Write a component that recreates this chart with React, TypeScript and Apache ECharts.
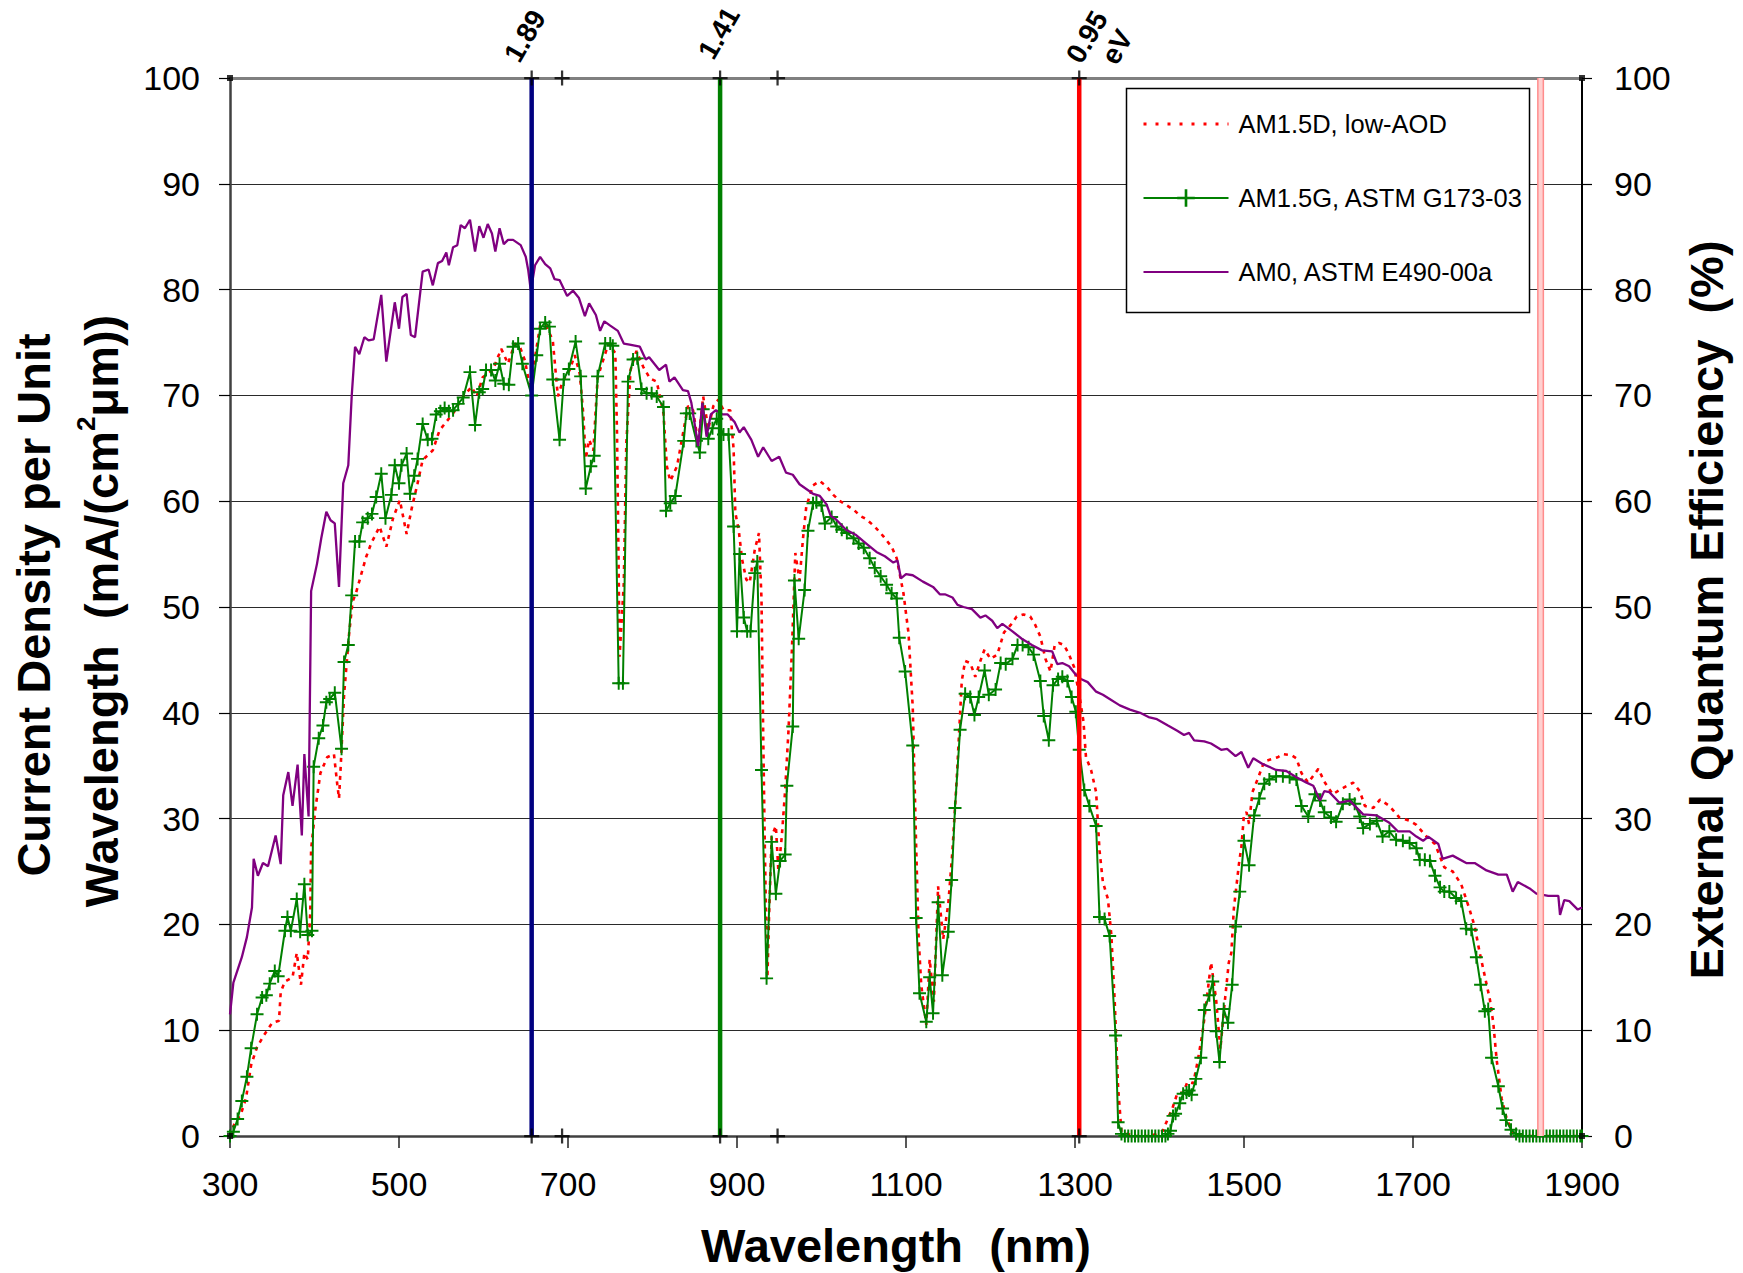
import React, { useEffect, useRef } from "react";
import * as echarts from "echarts";

// ---------- data (wavelength nm, current density mA/(cm^2 um)) ----------
const am0: number[][] = [
  [300,11.5],[304,14.5],[314,16.9],[320,18.8],[326,21.6],[328,26.2],[333,24.6],[339,25.8],[345,25.5],[354,28.4],
  [360,25.7],[363,32.2],[369,34.4],[374,31.2],[380,35.1],[385,28.4],[388,36.1],[393,30.2],[396,51.5],[403,54.1],
  [408,56.5],[414,59.0],[419,58.2],[424,57.9],[429,51.9],[434,61.7],[440,63.4],[444,69.9],[448,74.6],[453,73.9],
  [459,75.5],[464,75.2],[470,75.3],[479,79.5],[485,73.2],[495,78.8],[500,76.3],[504,79.3],[509,79.6],[514,75.7],
  [519,75.5],[528,81.7],[535,81.9],[540,80.4],[546,82.5],[551,82.7],[556,83.5],[559,82.3],[564,84.0],[569,84.2],
  [573,86.1],[578,85.8],[584,86.6],[590,83.6],[595,86.0],[600,84.9],[605,86.2],[610,85.3],[614,83.6],[619,85.8],
  [624,84.3],[629,84.7],[635,84.7],[644,84.2],[650,83.1],[653,81.8],[656,79.9],[661,82.3],[667,83.1],[673,82.4],
  [679,82.0],[684,81.0],[690,80.9],[699,79.4],[706,79.9],[713,79.2],[720,77.5],[725,78.7],[733,77.6],[738,76.1],
  [743,77.0],[750,76.6],[759,76.1],[766,74.9],[773,74.8],[785,74.6],[792,73.4],[796,73.6],[808,72.4],[816,72.9],
  [820,71.3],[826,71.7],[836,70.5],[842,70.4],[846,69.3],[854,65.2],[859,69.3],[864,66.1],[869,68.2],[875,68.6],
  [883,68.2],[889,68.2],[897,67.5],[903,66.5],[908,67.0],[917,65.8],[925,64.2],[931,65.1],[941,63.8],[950,64.2],
  [958,62.7],[966,62.5],[974,61.6],[990,60.7],[998,60.5],[1006,59.7],[1011,58.6],[1017,58.3],[1029,57.3],[1041,56.8],
  [1053,56.0],[1065,55.2],[1075,54.8],[1085,54.2],[1090,54.4],[1094,52.7],[1100,53.1],[1108,53.0],[1120,52.4],[1132,51.9],
  [1140,51.2],[1146,51.2],[1155,50.9],[1161,50.2],[1168,50.0],[1178,49.8],[1188,49.0],[1194,49.2],[1202,48.7],[1208,48.0],
  [1214,48.4],[1226,47.7],[1237,47.0],[1249,46.4],[1261,45.9],[1273,45.8],[1279,44.6],[1285,44.7],[1293,44.4],[1301,43.6],
  [1307,43.2],[1315,42.9],[1325,42.0],[1333,41.7],[1341,41.3],[1353,40.7],[1365,40.3],[1377,40.0],[1387,39.6],[1397,39.4],
  [1410,38.8],[1421,38.3],[1429,37.9],[1435,38.1],[1441,37.4],[1453,37.3],[1461,37.1],[1473,36.5],[1480,36.6],[1490,35.9],
  [1497,36.3],[1505,34.8],[1511,35.7],[1521,35.2],[1538,34.6],[1550,34.5],[1562,33.9],[1574,33.4],[1582,33.1],[1590,31.7],
  [1595,32.6],[1601,32.5],[1613,31.5],[1625,31.7],[1641,30.4],[1657,30.3],[1672,29.6],[1682,28.8],[1696,28.8],[1704,28.3],
  [1712,27.9],[1718,28.3],[1730,27.6],[1735,26.2],[1747,26.5],[1763,25.8],[1773,25.8],[1787,25.1],[1801,24.7],[1811,24.7],
  [1818,23.1],[1824,24.0],[1838,23.4],[1846,22.9],[1860,22.7],[1872,22.7],[1874,20.9],[1879,22.3],[1885,22.2],[1895,21.4],
  [1900,21.6]
];

const am15g: number[][] = [
  [300,0],[304,0.4],[309,1.6],[314,3.3],[320,5.6],[325,8.3],[332,11.5],[338,13.1],[343,13.3],[347,14.4],
  [353,15.6],[357,15.1],[365,19.4],[368,20.7],[372,19.4],[379,22.4],[383,19.3],[388,23.8],[392,19.0],[397,19.4],
  [399,34.9],[405,37.6],[410,38.8],[414,41.0],[418,41.3],[424,41.9],[432,36.6],[435,44.8],[440,46.4],[444,51.1],
  [448,56.2],[453,56.2],[457,58.0],[463,58.4],[468,58.8],[473,60.4],[479,62.6],[484,58.4],[491,60.6],[495,63.4],
  [500,61.7],[503,63.4],[509,64.5],[513,60.7],[518,62.4],[522,64.0],[528,67.3],[534,65.8],[539,65.9],[544,68.2],
  [549,68.5],[554,68.8],[559,68.5],[564,68.6],[570,69.2],[576,69.8],[584,72.2],[590,67.2],[595,70.3],[599,70.6],
  [603,72.4],[609,72.4],[614,71.4],[619,73.0],[624,71.1],[630,71.0],[635,74.6],[641,74.9],[646,73.0],[657,70.0],
  [663,73.8],[667,76.3],[673,76.9],[678,76.5],[682,71.5],[690,65.8],[695,71.5],[701,72.5],[709,75.1],[715,71.8],
  [721,61.2],[727,63.3],[731,64.3],[735,71.8],[744,74.9],[750,74.9],[753,74.7],[760,42.8],[765,42.8],[771,71.3],
  [777,73.4],[782,73.5],[787,70.6],[793,70.2],[799,70.2],[805,69.9],[813,68.9],[816,59.1],[821,59.8],[827,60.5],
  [837,65.7],[840,68.3],[844,68.3],[852,65.7],[856,64.6],[860,68.7],[866,65.9],[871,66.9],[876,67.8],[884,66.3],
  [890,66.3],[896,57.6],[900,47.7],[903,55.0],[908,49.0],[912,47.7],[916,47.7],[921,53.2],[924,54.3],[929,34.6],
  [935,14.9],[941,27.8],[946,22.9],[951,26.0],[957,26.6],[959,33.1],[966,38.7],[968,52.5],[973,47.0],[980,51.6],
  [984,57.2],[990,59.8],[994,59.9],[1000,59.6],[1004,57.9],[1012,58.5],[1018,57.6],[1024,57.3],[1030,57.0],[1038,56.5],
  [1044,56.0],[1050,55.6],[1057,54.6],[1063,53.7],[1070,52.9],[1077,52.1],[1083,51.3],[1089,50.8],[1092,47.1],[1099,43.9],
  [1108,36.9],[1112,20.6],[1116,13.5],[1124,10.8],[1128,15.0],[1132,11.6],[1138,22.1],[1143,15.2],[1150,19.3],[1154,24.2],
  [1158,31.0],[1164,38.4],[1170,41.8],[1176,41.5],[1181,39.8],[1186,41.5],[1193,44.0],[1198,41.7],[1206,42.2],[1212,44.7],
  [1218,44.6],[1226,45.1],[1232,46.4],[1238,46.4],[1245,46.2],[1251,45.5],[1259,43.0],[1263,39.7],[1269,37.4],[1274,42.6],
  [1280,43.2],[1285,43.4],[1291,43.0],[1296,41.5],[1301,40.1],[1305,36.5],[1311,32.7],[1317,31.2],[1325,29.3],[1329,20.7],
  [1335,20.5],[1341,18.9],[1348,9.5],[1351,1.3],[1355,0.2],[1359,0],[1363,0],[1367,0],[1371,0],[1375,0],
  [1379,0],[1383,0],[1387,0],[1391,0],[1395,0],[1399,0],[1403,0],[1407,0],[1410,0.2],[1413,0.5],
  [1416,1.9],[1419,2.1],[1424,3.1],[1428,4.0],[1432,4.1],[1435,4.3],[1438,3.9],[1443,5.4],[1449,7.4],[1453,11.9],
  [1459,13.3],[1463,14.6],[1467,9.9],[1471,7.0],[1476,12.0],[1481,10.7],[1486,14.3],[1490,19.8],[1495,23.1],[1500,27.9],
  [1506,25.6],[1512,30.3],[1518,31.9],[1524,33.3],[1530,33.7],[1538,34.0],[1546,34.0],[1554,33.9],[1562,33.7],[1568,31.2],
  [1576,30.2],[1584,32.3],[1590,31.7],[1595,30.6],[1603,30.1],[1609,29.7],[1617,31.4],[1625,31.8],[1631,31.4],[1637,30.2],
  [1641,29.1],[1649,29.5],[1657,29.8],[1664,28.3],[1672,28.8],[1680,28.0],[1688,27.9],[1696,27.7],[1704,27.2],[1708,26.1],
  [1714,26.1],[1720,26.0],[1726,24.6],[1732,23.5],[1737,23.1],[1743,23.1],[1751,22.5],[1757,22.2],[1763,19.6],[1769,19.5],
  [1775,16.9],[1780,14.3],[1785,11.8],[1789,12.0],[1793,7.4],[1801,4.7],[1806,2.6],[1810,1.5],[1816,0.6],[1822,0.2],
  [1826,0],[1830,0],[1834,0],[1838,0],[1842,0],[1846,0],[1850,0],[1854,0],[1858,0],[1862,0],
  [1866,0],[1870,0],[1874,0],[1878,0],[1882,0],[1886,0],[1890,0],[1894,0],[1898,0],[1900,0]
];

const am15d: number[][] = [
  [300,0],[305,1.1],[313,2.1],[319,3.6],[325,6.7],[332,8.4],[340,9.5],[350,10.7],[358,10.9],[360,13.6],
  [365,14.6],[374,15.0],[379,17.3],[384,14.3],[388,17.3],[392,16.7],[395,21.1],[396,27.1],[401,30.9],[407,34.3],
  [415,35.8],[423,36.1],[427,33.2],[429,31.9],[431,34.9],[435,41.7],[441,47.5],[445,50.5],[449,51.3],[455,53.0],
  [461,54.7],[467,56.0],[477,57.6],[485,55.7],[493,58.4],[501,60.1],[509,56.9],[515,59.3],[522,61.7],[528,63.9],
  [540,64.8],[548,66.7],[564,68.3],[576,69.9],[586,70.8],[592,69.9],[599,71.7],[611,72.4],[621,74.4],[629,73.0],
  [637,74.9],[643,74.6],[649,73.3],[655,70.8],[661,73.6],[667,76.6],[674,76.6],[682,75.2],[688,69.9],[694,71.4],
  [702,72.4],[708,73.8],[714,72.0],[718,68.3],[721,64.0],[725,65.8],[730,64.8],[735,71.6],[739,72.7],[748,74.9],
  [756,74.0],[758,66.4],[760,53.2],[761,45.3],[766,52.2],[769,65.5],[774,72.4],[781,74.2],[789,72.7],[797,71.6],
  [805,71.3],[813,68.3],[817,63.3],[821,61.9],[829,63.3],[837,66.8],[842,69.0],[848,68.6],[854,65.5],[860,69.9],
  [866,66.8],[872,69.0],[878,69.6],[884,68.6],[892,68.6],[896,64.9],[898,58.9],[902,57.3],[906,54.5],[911,52.6],
  [915,52.3],[921,55.4],[926,57.0],[929,50.7],[931,38.0],[933,27.0],[935,18.0],[936,15.0],[938,21.0],[941,28.3],
  [946,29.3],[949,25.0],[953,28.3],[957,32.7],[961,38.4],[965,46.0],[969,55.1],[974,52.5],[978,56.4],[982,59.5],
  [990,61.5],[998,61.9],[1006,61.4],[1014,60.6],[1022,60.0],[1030,59.6],[1038,59.2],[1046,58.6],[1053,58.3],[1063,57.6],
  [1073,56.7],[1083,55.7],[1089,54.6],[1097,51.3],[1103,47.5],[1108,40.5],[1112,27.4],[1115,18.6],[1118,14.3],[1124,10.5],
  [1128,16.7],[1133,12.7],[1138,23.6],[1144,18.6],[1150,21.9],[1155,27.0],[1160,33.7],[1166,43.0],[1170,44.9],[1176,44.7],
  [1182,43.4],[1188,44.9],[1193,46.0],[1200,45.1],[1208,45.5],[1216,47.6],[1224,48.3],[1231,49.1],[1239,49.3],[1247,49.1],
  [1253,48.3],[1259,47.2],[1265,45.1],[1271,43.9],[1276,46.4],[1281,46.6],[1287,46.4],[1293,45.5],[1299,44.3],[1305,41.7],
  [1310,39.2],[1313,35.8],[1319,34.6],[1325,32.5],[1329,27.0],[1333,24.0],[1339,22.4],[1343,19.0],[1347,12.7],[1351,4.6],
  [1355,0.4],[1370,0],[1390,0],[1404,0.5],[1416,2.8],[1421,4.0],[1428,4.1],[1433,5.1],[1440,5.0],[1445,7.0],
  [1451,9.8],[1456,13.0],[1461,16.4],[1467,12.9],[1472,8.2],[1477,12.5],[1482,16.4],[1485,17.3],[1488,21.5],[1491,23.6],
  [1494,25.7],[1497,27.4],[1500,30.4],[1503,30.6],[1506,29.5],[1510,32.5],[1516,33.7],[1524,35.4],[1532,35.6],[1540,35.8],
  [1546,36.1],[1556,36.0],[1562,35.7],[1568,34.3],[1576,33.4],[1588,34.7],[1595,33.5],[1605,32.3],[1615,32.8],[1629,33.4],
  [1637,32.6],[1643,31.2],[1653,31.0],[1661,31.8],[1672,31.2],[1684,30.1],[1696,29.8],[1704,29.4],[1716,28.3],[1726,27.6],
  [1737,25.4],[1747,25.0],[1757,23.8],[1767,21.4],[1773,19.8],[1779,17.3],[1785,15.1],[1791,12.9],[1795,10.7],[1799,7.2],
  [1805,3.5],[1811,1.6],[1818,0.3],[1830,0],[1860,0],[1900,0]
];

// band-gap wavelength markers (nm) and their top labels (eV)
const gapLines = [657, 880, 1305];
const gapLabels = ["1.89", "1.41", "0.95"];
const pinkLine = 1851;
const extraTicks = [693, 948];

const xTicks = { min: 300, max: 1900, step: 200 };
const yTicks = { min: 0, max: 100, step: 10 };

const seriesNames = ["AM1.5D, low-AOD", "AM1.5G, ASTM G173-03", "AM0, ASTM E490-00a"];

const FONT = "'Liberation Sans', Arial, Helvetica, sans-serif";
const PLUS = "path://M8.5,0H11.5V8.5H20V11.5H11.5V20H8.5V11.5H0V8.5H8.5Z";

function vline(x: number, color: string, width: number, z: number) {
  return {
    type: "line",
    data: [[x, yTicks.min], [x, yTicks.max]],
    symbol: "none",
    silent: true,
    lineStyle: { color, width },
    z,
    clip: false,
  };
}

export default function App() {
  const ref = useRef<HTMLDivElement>(null);
  useEffect(() => {
    if (!ref.current) return;
    const chart = echarts.init(ref.current, null, { renderer: "svg" });
    const gapColors = ["#000080", "#008000", "#ff0000"];
    const plusPts: number[][] = [];
    [...gapLines, ...extraTicks].forEach((x) => {
      plusPts.push([x, 0]);
      plusPts.push([x, 100]);
    });
    const option: any = {
      animation: false,
      backgroundColor: "#ffffff",
      textStyle: { fontFamily: FONT },
      grid: { left: 230, top: 78, width: 1352, height: 1058, containLabel: false },
      legend: {
        data: [
          { name: seriesNames[0], itemStyle: { opacity: 0 }, lineStyle: { type: [3, 9], width: 3 } },
          { name: seriesNames[1] },
          { name: seriesNames[2], itemStyle: { opacity: 0 } },
        ],
        orient: "vertical",
        left: 1137,
        top: 104,
        itemWidth: 85,
        itemHeight: 22,
        itemGap: 44,
        z: 20,
        selectedMode: false,
        textStyle: { fontSize: 25.5, color: "#000", fontFamily: FONT, lineHeight: 30, padding: [0, 0, 0, 5] },
      },
      xAxis: [
        {
          type: "value",
          min: xTicks.min,
          max: xTicks.max,
          interval: xTicks.step,
          position: "bottom",
          axisLine: { show: true, onZero: false, lineStyle: { color: "#404040", width: 2.5 } },
          axisTick: { show: true, length: 12, lineStyle: { color: "#202020", width: 1.5 } },
          axisLabel: { fontSize: 34, margin: 31, color: "#000", fontFamily: FONT, formatter: (v: number) => String(v) },
          splitLine: { show: false },
        },
        {
          type: "value",
          min: xTicks.min,
          max: xTicks.max,
          interval: xTicks.step,
          position: "top",
          axisLine: { show: true, onZero: false, lineStyle: { color: "#808080", width: 3 } },
          axisTick: { show: false },
          axisLabel: { show: false },
          splitLine: { show: false },
        },
      ],
      yAxis: [
        {
          type: "value",
          min: yTicks.min,
          max: yTicks.max,
          interval: yTicks.step,
          position: "left",
          axisLine: { show: true, onZero: false, lineStyle: { color: "#404040", width: 2.5 } },
          axisTick: { show: true, length: 11, lineStyle: { color: "#000", width: 1.2 } },
          axisLabel: { fontSize: 34, margin: 30, color: "#000", fontFamily: FONT },
          splitLine: { show: true, lineStyle: { color: "#2a2a2a", width: 1 } },
        },
        {
          type: "value",
          min: yTicks.min,
          max: yTicks.max,
          interval: yTicks.step,
          position: "right",
          axisLine: { show: true, onZero: false, lineStyle: { color: "#000", width: 2 } },
          axisTick: { show: true, length: 10, lineStyle: { color: "#000", width: 1.2 } },
          axisLabel: { fontSize: 34, margin: 32, color: "#000", fontFamily: FONT },
          splitLine: { show: false },
        },
      ],
      series: [
        {
          name: seriesNames[0],
          type: "line",
          data: am15d,
          symbol: "none",
          lineStyle: { color: "#ff0000", width: 2.6, type: [4, 5] },
          itemStyle: { color: "#ff0000" },
          z: 2,
        },
        {
          name: seriesNames[1],
          type: "line",
          data: am15g,
          symbol: PLUS,
          symbolSize: 13,
          lineStyle: { color: "#008000", width: 2 },
          itemStyle: { color: "#008000" },
          z: 3,
          clip: false,
        },
        {
          name: seriesNames[2],
          type: "line",
          data: am0,
          symbol: "none",
          lineStyle: { color: "#800080", width: 2.3 },
          itemStyle: { color: "#800080" },
          z: 4,
        },
        ...gapLines.map((x, i) => vline(x, gapColors[i], 4.5, 6)),
        vline(pinkLine, "#ff8c8c", 7, 6),
        vline(pinkLine, "#ffd0d0", 4, 7),
        {
          type: "scatter",
          data: plusPts,
          symbol: PLUS,
          symbolSize: 15,
          itemStyle: { color: "#000" },
          silent: true,
          clip: false,
          z: 8,
        },
        {
          type: "scatter",
          data: [[300, 0], [1900, 0], [300, 100], [1900, 100]],
          symbol: "rect",
          symbolSize: 6,
          itemStyle: { color: "#000" },
          silent: true,
          clip: false,
          z: 8,
        },
      ],
      graphic: {
        elements: [
          {
            type: "rect",
            shape: { x: 1126.5, y: 88.5, width: 403, height: 224 },
            style: { fill: "#fff", stroke: "#000", lineWidth: 1.5 },
            z: 10,
            silent: true,
          },
          {
            type: "text",
            x: 896,
            y: 1245,
            style: {
              text: "Wavelength  (nm)",
              fontSize: 47,
              fontWeight: "bold",
              fontFamily: FONT,
              fill: "#000",
              textAlign: "center",
              textVerticalAlign: "middle",
            },
          },
          {
            type: "text",
            x: 33,
            y: 605,
            rotation: Math.PI / 2,
            style: {
              text: "Current Density per Unit",
              fontSize: 47,
              fontWeight: "bold",
              fontFamily: FONT,
              fill: "#000",
              textAlign: "center",
              textVerticalAlign: "middle",
            },
          },
          {
            type: "text",
            x: 101,
            y: 611,
            rotation: Math.PI / 2,
            style: {
              text: "Wavelength  (mA/(cm{sup|2}\u03bcm))",
              fontSize: 47,
              fontWeight: "bold",
              fontFamily: FONT,
              fill: "#000",
              textAlign: "center",
              textVerticalAlign: "middle",
              lineHeight: 56,
              rich: {
                sup: { fontSize: 26, fontWeight: "bold", fontFamily: FONT, fill: "#000", verticalAlign: "top", lineHeight: 24 },
              },
            },
          },
          {
            type: "text",
            x: 1706,
            y: 610,
            rotation: Math.PI / 2,
            style: {
              text: "External Quantum Efficiency  (%)",
              fontSize: 47,
              fontWeight: "bold",
              fontFamily: FONT,
              fill: "#000",
              textAlign: "center",
              textVerticalAlign: "middle",
            },
          },
          ...[
            { t: gapLabels[0], x: 525, y: 36 },
            { t: gapLabels[1], x: 719, y: 33 },
            { t: gapLabels[2], x: 1087, y: 37 },
            { t: "eV", x: 1117, y: 47 },
          ].map((d) => ({
            type: "text",
            x: d.x,
            y: d.y,
            rotation: Math.PI / 3,
            style: {
              text: d.t,
              fontSize: 28,
              fontWeight: "bold",
              fontFamily: FONT,
              fill: "#000",
              textAlign: "center",
              textVerticalAlign: "middle",
            },
          })),
        ],
      },
    };
    chart.setOption(option);
    return () => chart.dispose();
  }, []);
  return (
    <div
      ref={ref}
      style={{ position: "fixed", left: 0, top: 0, width: 1743, height: 1273, background: "#fff" }}
    />
  );
}
